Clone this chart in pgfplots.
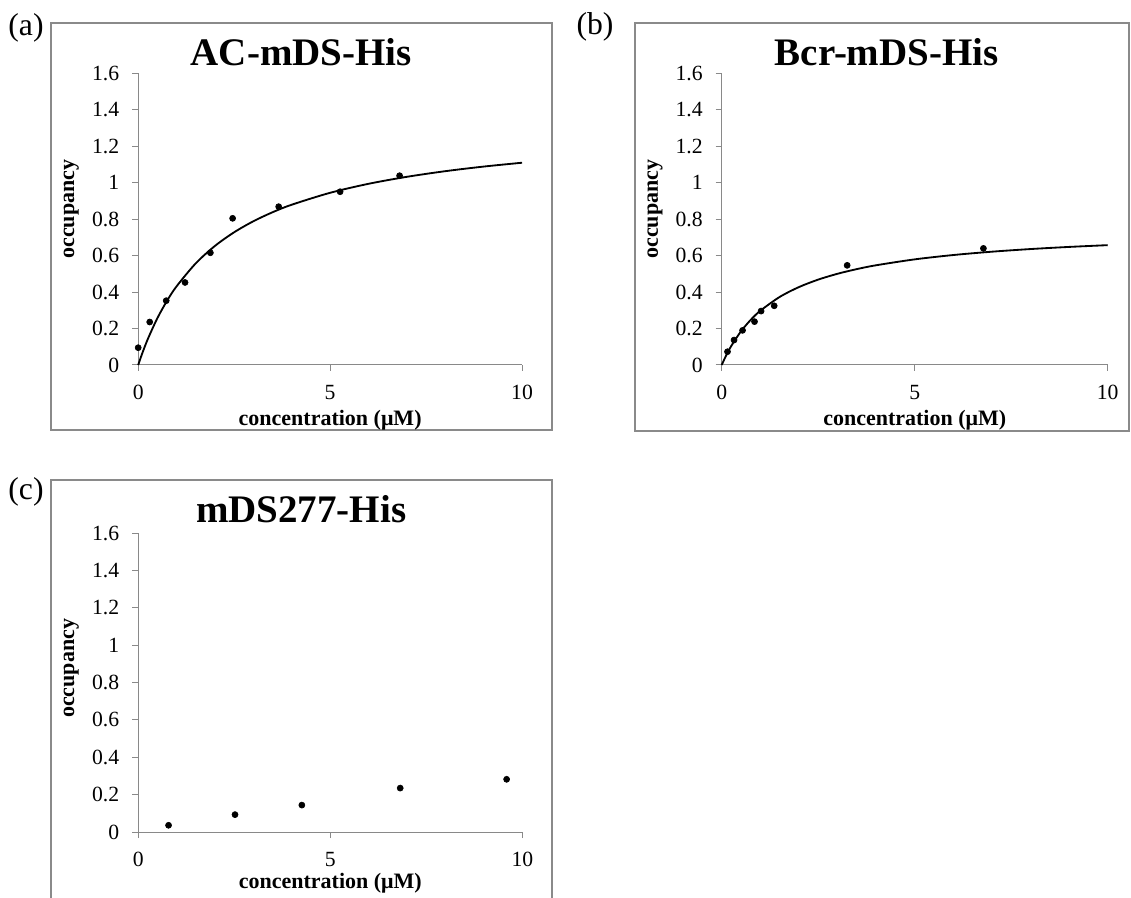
\documentclass[border=0pt]{standalone}
\usepackage{fontspec}
\setmainfont{Liberation Serif}
\usepackage{pgfplots}
\pgfplotsset{compat=1.18}
\definecolor{axgray}{HTML}{898989}
\definecolor{framegray}{HTML}{8A8A8A}

\pgfplotsset{
  panel/.style={
    scale only axis,
    anchor=south west,
    xmin=0, xmax=10, ymin=0, ymax=1.6,
    axis lines*=left,
    axis line style={axgray, line width=0.6pt},
    tick style={axgray, line width=0.6pt},
    tick align=outside,
    major tick length=3.6pt,
    xtick={0,5,10}, xticklabels={0,5,10},
    ytick={0,0.2,0.4,0.6,0.8,1,1.2,1.4,1.6},
    yticklabels={0,0.2,0.4,0.6,0.8,1,1.2,1.4,1.6},
    tick label style={font=\fontsize{13}{15}\selectfont, text=black},
    xticklabel style={inner sep=0pt, anchor=north},
    yticklabel style={inner sep=0pt, anchor=east},
    xticklabel shift=8.4pt,
    yticklabel shift=7.6pt,
    every axis title shift=0pt,
    title style={font=\fontsize{23.4}{26}\selectfont\bfseries},
    label style={font=\fontsize{13.2}{15}\selectfont\bfseries},
    xlabel={concentration (μM)},
    ylabel={occupancy},
    clip=false,
  },
  dots/.style={only marks, mark=*, mark size=1.8pt, black},
  fit/.style={black, line width=1.1pt, smooth, no marks},
}

\begin{document}
\begin{tikzpicture}
\useasboundingbox (0,0) rectangle (678.6pt,538.2pt);

% chart frames
\draw[framegray, line width=1.2pt] (30.42pt,524.4pt) rectangle (331.02pt,280.2pt);
\draw[framegray, line width=1.2pt] (381pt,524.4pt) rectangle (677.4pt,279.6pt);
\draw[framegray, line width=1.2pt] (30.42pt,250.2pt) rectangle (331.02pt,-3pt);

% panel letters
\node[font=\fontsize{19}{21}\selectfont] at (15.6pt,521.7pt) {(a)};
\node[font=\fontsize{19}{21}\selectfont] at (357pt,522pt) {(b)};
\node[font=\fontsize{19}{21}\selectfont] at (15.6pt,243pt) {(c)};

% (a)
\begin{axis}[panel, at={(82.92pt,319.2pt)}, width=230.3pt, height=174.9pt,
  title={AC-mDS-His},
  title style={at={(axis description cs:0.4247,1.029)}, anchor=base, inner sep=0pt},
  xlabel style={at={(axis description cs:0.5,-0.206)}, anchor=base},
  ylabel style={at={(axis description cs:-0.1743,0.535)}, anchor=center}]
\addplot[fit] coordinates {
(0,0) (0.1,0.0607) (0.25,0.1422) (0.5,0.2572) (0.75,0.3521) (1,0.4318)
(1.5,0.5581) (2,0.6537) (2.5,0.7286) (3,0.7889) (3.5,0.8384) (4,0.8798)
(5,0.9452) (6,0.9945) (7,1.0329) (8,1.0638) (9,1.0891) (10,1.1102)};
\addplot[dots] coordinates {
(0,0.095) (0.30,0.236) (0.73,0.353) (1.22,0.453) (1.88,0.616)
(2.46,0.805) (3.66,0.869) (5.26,0.951) (6.81,1.039)};
\end{axis}

% (b)
\begin{axis}[panel, at={(433.02pt,319.2pt)}, width=231.6pt, height=174.9pt,
  title={Bcr-mDS-His},
  title style={at={(axis description cs:0.4275,1.029)}, anchor=base, inner sep=0pt},
  xlabel style={at={(axis description cs:0.5,-0.206)}, anchor=base},
  ylabel style={at={(axis description cs:-0.1728,0.535)}, anchor=center}]
\addplot[fit] coordinates {
(0,0) (0.1,0.0459) (0.25,0.1053) (0.5,0.1850) (0.75,0.2474) (1,0.2976)
(1.5,0.3733) (2,0.4277) (2.5,0.4687) (3,0.5007) (3.5,0.5263) (4,0.5474)
(5,0.5798) (6,0.6036) (7,0.6219) (8,0.6364) (9,0.6481) (10,0.6578)};
\addplot[dots] coordinates {
(0.15,0.073) (0.32,0.137) (0.54,0.190) (0.85,0.238) (1.02,0.296)
(1.36,0.325) (3.25,0.547) (6.78,0.640)};
\end{axis}

% (c)
\begin{axis}[panel, at={(82.92pt,39pt)}, width=230.5pt, height=179.4pt,
  title={mDS277-His},
  title style={at={(axis description cs:0.4243,1.035)}, anchor=base, inner sep=0pt},
  xlabel style={at={(axis description cs:0.5,-0.19)}, anchor=base},
  ylabel style={at={(axis description cs:-0.1741,0.5475)}, anchor=center}]
\addplot[dots] coordinates {
(0.79,0.036) (2.52,0.093) (4.26,0.144) (6.82,0.235) (9.59,0.282)};
\end{axis}
\end{tikzpicture}
\end{document}
